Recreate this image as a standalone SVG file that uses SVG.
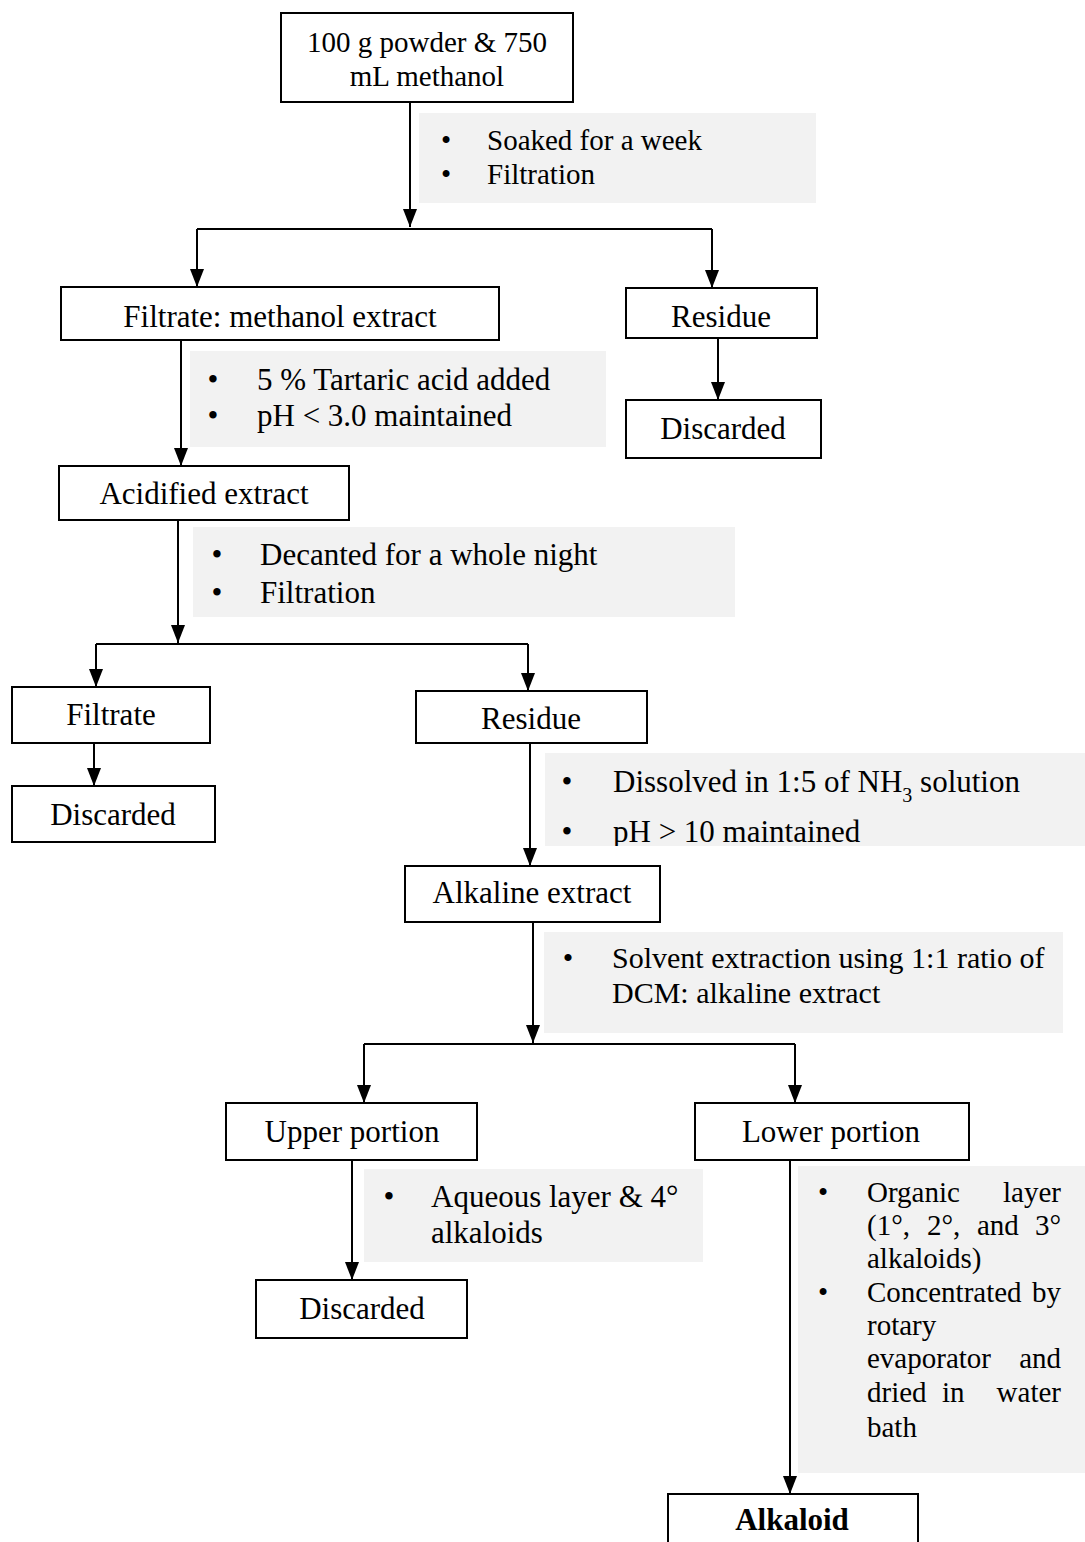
<svg xmlns="http://www.w3.org/2000/svg" width="1085" height="1542" viewBox="0 0 1085 1542">
<defs>
<style>
.box{fill:#fff;stroke:#000;stroke-width:2}
.note{fill:#f2f2f2;stroke:none}
.t{font-family:"Liberation Serif","Times New Roman",serif;fill:#000}
.c{text-anchor:middle}
.e{text-anchor:end}
.s29{font-size:29px}
.s30{font-size:30px}
.s31{font-size:31px}
.ln{fill:none;stroke:#000;stroke-width:2}
.ar{fill:none;stroke:#000;stroke-width:2;marker-end:url(#ah)}
</style>
<marker id="ah" markerUnits="userSpaceOnUse" markerWidth="14" markerHeight="18" viewBox="0 0 14 18" refX="7" refY="18" orient="0">
<path d="M0,0 L14,0 L7,18 z" fill="#000"/>
</marker>
<clipPath id="clip4"><rect x="545" y="753" width="540" height="93"/></clipPath>
</defs>
<rect width="1085" height="1542" fill="#fff"/>

<g id="notes">
<g id="note1">
<rect class="note" x="419" y="113" width="397" height="90"/>
<text class="t s29 c" x="446" y="150">•</text><text class="t s29" x="487" y="150">Soaked for a week</text>
<text class="t s29 c" x="446" y="184">•</text><text class="t s29" x="487" y="184">Filtration</text>
</g>
<g id="note2">
<rect class="note" x="190" y="351" width="416" height="96"/>
<text class="t s31 c" x="213" y="390">•</text><text class="t s31" x="257" y="390">5 % Tartaric acid added</text>
<text class="t s31 c" x="213" y="426">•</text><text class="t s31" x="257" y="426">pH &lt; 3.0 maintained</text>
</g>
<g id="note3">
<rect class="note" x="193" y="527" width="542" height="90"/>
<text class="t s31 c" x="217" y="565">•</text><text class="t s31" x="260" y="565">Decanted for a whole night</text>
<text class="t s31 c" x="217" y="603">•</text><text class="t s31" x="260" y="603">Filtration</text>
</g>
<g id="note4" clip-path="url(#clip4)">
<rect class="note" x="545" y="753" width="540" height="93"/>
<text class="t s31 c" x="567" y="792">•</text><text class="t s31" x="613" y="792">Dissolved in 1:5 of NH<tspan font-size="20" dy="10">3</tspan><tspan dy="-10"> solution</tspan></text>
<text class="t s31 c" x="567" y="842">•</text><text class="t s31" x="613" y="842">pH &gt; 10 maintained</text>
</g>
<g id="note5">
<rect class="note" x="544" y="932" width="519" height="101"/>
<text class="t s30 c" x="568" y="968">•</text><text class="t s30" x="612" y="968">Solvent extraction using 1:1 ratio of</text>
<text class="t s30" x="612" y="1003">DCM: alkaline extract</text>
</g>
<g id="note6">
<rect class="note" x="364" y="1169" width="339" height="93"/>
<text class="t s31 c" x="389" y="1207">•</text><text class="t s31" x="431" y="1207">Aqueous layer &amp; 4°</text>
<text class="t s31" x="431" y="1243">alkaloids</text>
</g>
<g id="note7">
<rect class="note" x="798" y="1166" width="287" height="307"/>
<text class="t s29 c" x="823" y="1202">•</text>
<text class="t s29" x="867" y="1202">Organic</text><text class="t s29 e" x="1061" y="1202">layer</text>
<text class="t s29" x="867" y="1235">(1°,</text><text class="t s29" x="927" y="1235">2°,</text><text class="t s29" x="977" y="1235">and</text><text class="t s29 e" x="1061" y="1235">3°</text>
<text class="t s29" x="867" y="1268">alkaloids)</text>
<text class="t s29 c" x="823" y="1302">•</text>
<text class="t s29" x="867" y="1302">Concentrated</text><text class="t s29 e" x="1061" y="1302">by</text>
<text class="t s29" x="867" y="1335">rotary</text>
<text class="t s29" x="867" y="1368">evaporator</text><text class="t s29 e" x="1061" y="1368">and</text>
<text class="t s29" x="867" y="1402">dried</text><text class="t s29" x="942" y="1402">in</text><text class="t s29 e" x="1061" y="1402">water</text>
<text class="t s29" x="867" y="1437">bath</text>
</g>
</g>

<g id="connectors">
<path class="ar" d="M410,102 V227"/>
<path class="ln" d="M197,229 H712"/>
<path class="ar" d="M197,229 V287"/>
<path class="ar" d="M712,229 V288"/>
<path class="ar" d="M718,338 V400"/>
<path class="ar" d="M181,340 V466"/>
<path class="ar" d="M178,520 V643"/>
<path class="ln" d="M96,644 H528"/>
<path class="ar" d="M96,644 V687"/>
<path class="ar" d="M528,644 V691"/>
<path class="ar" d="M94,743 V786"/>
<path class="ar" d="M530,743 V866"/>
<path class="ar" d="M533,922 V1043"/>
<path class="ln" d="M364,1044 H795"/>
<path class="ar" d="M364,1044 V1103"/>
<path class="ar" d="M795,1044 V1103"/>
<path class="ar" d="M352,1160 V1280"/>
<path class="ar" d="M790,1160 V1494"/>
</g>

<g id="n_start"><rect class="box" x="281" y="13" width="292" height="89"/>
<text class="t s29 c" x="427" y="52">100 g powder &amp; 750</text>
<text class="t s29 c" x="427" y="86">mL methanol</text></g>

<g id="n_filtrate1"><rect class="box" x="61" y="287" width="438" height="53"/>
<text class="t s31 c" x="280" y="327">Filtrate: methanol extract</text></g>

<g id="n_residue1"><rect class="box" x="626" y="288" width="191" height="50"/>
<text class="t s31 c" x="721" y="327">Residue</text></g>

<g id="n_discard1"><rect class="box" x="626" y="400" width="195" height="58"/>
<text class="t s31 c" x="723" y="439">Discarded</text></g>

<g id="n_acid"><rect class="box" x="59" y="466" width="290" height="54"/>
<text class="t s31 c" x="204" y="504">Acidified extract</text></g>

<g id="n_filtrate2"><rect class="box" x="12" y="687" width="198" height="56"/>
<text class="t s31 c" x="111" y="725">Filtrate</text></g>

<g id="n_discard2"><rect class="box" x="12" y="786" width="203" height="56"/>
<text class="t s31 c" x="113" y="825">Discarded</text></g>

<g id="n_residue2"><rect class="box" x="416" y="691" width="231" height="52"/>
<text class="t s31 c" x="531" y="729">Residue</text></g>

<g id="n_alk"><rect class="box" x="405" y="866" width="255" height="56"/>
<text class="t s31 c" x="532" y="903">Alkaline extract</text></g>

<g id="n_upper"><rect class="box" x="226" y="1103" width="251" height="57"/>
<text class="t s31 c" x="352" y="1142">Upper portion</text></g>

<g id="n_lower"><rect class="box" x="695" y="1103" width="274" height="57"/>
<text class="t s31 c" x="831" y="1142">Lower portion</text></g>

<g id="n_discard3"><rect class="box" x="256" y="1280" width="211" height="58"/>
<text class="t s31 c" x="362" y="1319">Discarded</text></g>

<g id="n_alkaloid"><rect class="box" x="668" y="1494" width="250" height="70"/>
<text class="t s31 c" x="792" y="1530" font-weight="bold">Alkaloid</text></g>
</svg>
